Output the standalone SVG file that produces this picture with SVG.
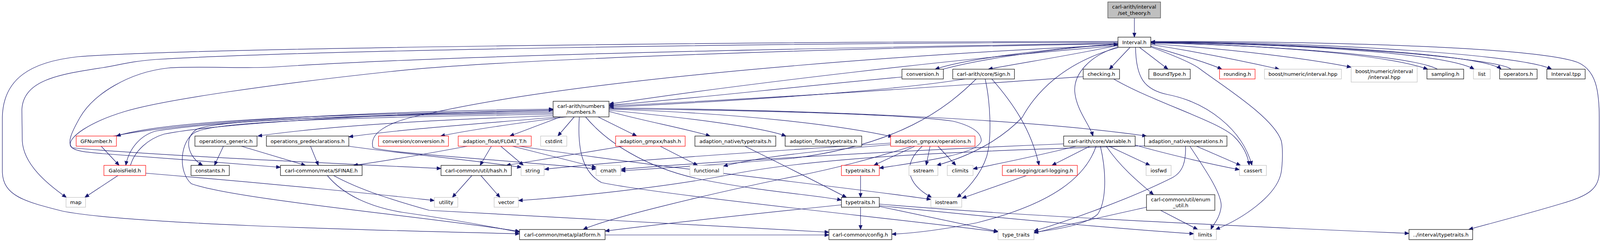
<svg xmlns="http://www.w3.org/2000/svg" width="4103" height="619" viewBox="0 0 4103 619">
<defs>
<marker id="a" markerWidth="13" markerHeight="10" refX="11" refY="4.5" orient="auto" markerUnits="userSpaceOnUse"><path d="M0,0 L11,4.5 L0,9 z" fill="#191970" stroke="#191970" stroke-width="1"/></marker>
</defs>
<style>
rect{fill:#fff;stroke:#000;stroke-width:1.2}
.g rect{stroke:#bfbfbf}
.r rect{stroke:#ff0000}
.root rect{fill:#bfbfbf;stroke:#404040}
text{font-family:"DejaVu Sans","Liberation Sans",sans-serif;font-size:13px;text-anchor:middle;fill:#000}
#edges path{fill:none;stroke:#191970;stroke-width:1.2;marker-end:url(#a)}
</style>
<rect x="0" y="0" width="4103" height="619" style="fill:#fff;stroke:none"/>
<g id="edges">
<path d="M2904,46 L2904,95"/>
<path d="M2862,112 C2700,124 2480,148 2394,177"/>
<path d="M2414,177 C2520,148 2720,122 2862,113"/>
<path d="M2862,116 C2750,140 2620,160 2530,177"/>
<path d="M2893,121 L2840,177"/>
<path d="M2917,121 L2990,177"/>
<path d="M2946,118 C3020,140 3090,160 3128,177"/>
<path d="M2946,114 C3080,135 3200,160 3275,177"/>
<path d="M2946,112 C3150,125 3350,150 3459,172"/>
<path d="M2946,110 C3250,115 3550,140 3655,177"/>
<path d="M3680,177 C3620,145 3300,118 2946,109"/>
<path d="M2946,109 C3300,112 3700,135 3774,177"/>
<path d="M2946,108 C3350,110 3800,140 3843,177"/>
<path d="M3868,177 C3840,150 3400,112 2946,107"/>
<path d="M2946,107 C3400,108 3900,140 3972,177"/>
<path d="M2946,106 C3500,106 3950,125 4040,160 C4085,180 4094,230 4094,300 L4094,440 C4094,480 4070,500 4000,520 C3900,550 3820,570 3760,587"/>
<path d="M2946,120 C3000,140 3050,160 3070,175 C3130,220 3260,300 3280,360 C3285,380 3283,420 3280,440 C3270,500 3180,560 3112,587"/>
<path d="M2907,121 C2908,200 2930,230 2990,242 C3090,262 3180,330 3205,423"/>
<path d="M2851,202 C2950,260 3120,310 3160,350 C3185,375 3195,400 3198,423"/>
<path d="M2862,120 C2790,142 2745,190 2752,240 C2758,285 2790,320 2798,348"/>
<path d="M2862,122 C2720,160 2650,240 2617,300 C2560,360 2480,400 2398,423"/>
<path d="M2862,117 C2450,150 1900,215 1560,266"/>
<path d="M2309,197 C2000,225 1800,250 1560,269"/>
<path d="M2773,196 C2400,222 2000,250 1560,271"/>
<path d="M2470,202 C2300,230 1950,255 1560,274"/>
<path d="M2862,106 C2000,106 500,122 200,145 C80,158 8,200 6,300 L6,440 C8,500 60,515 160,540 C320,572 900,588 1330,598"/>
<path d="M2862,108 C2000,110 800,128 400,152 C330,157 300,168 263,173 C150,190 60,205 56,280 L57,360 C60,420 120,470 170,505"/>
<path d="M2862,110 C2000,125 1200,140 723,170 C640,177 500,168 430,174 C330,185 240,240 205,300 C185,335 170,365 185,378 C400,398 900,420 1129,431"/>
<path d="M2862,112 C2200,122 1300,150 1000,183 C700,215 420,255 320,285 C230,312 175,350 180,372 C186,388 230,390 263,393 C400,403 600,418 718,428"/>
<path d="M2862,115 C2300,140 1500,200 1100,290 C980,312 945,345 955,378 C1000,392 1300,410 1526,432"/>
<path d="M893,374 C1000,390 1200,408 1335,428"/>
<path d="M1416,283 C1000,290 450,300 298,348"/>
<path d="M290,348 C500,306 1000,284 1416,279"/>
<path d="M1416,286 C900,293 560,310 400,335 C360,345 330,380 322,423"/>
<path d="M334,423 C345,385 380,355 420,343 C560,315 1000,290 1416,281"/>
<path d="M1416,289 C900,296 570,305 505,330 C470,350 478,400 519,423"/>
<path d="M1416,292 C800,302 560,312 500,338 C460,360 455,440 490,470 C600,510 1100,555 1330,592"/>
<path d="M838,449 C880,500 950,530 1030,543 C1150,560 1250,578 1330,594"/>
<path d="M854,449 C920,485 1000,510 1099,538 C1500,560 1900,580 2122,594"/>
<path d="M1549,601 C1800,602 2000,600 2122,601"/>
<path d="M1416,296 C1150,305 850,320 660,348"/>
<path d="M1430,299 C1250,315 1050,328 893,350"/>
<path d="M1450,299 C1300,318 1190,335 1128,348"/>
<path d="M1435,299 L1305,348"/>
<path d="M1470,299 L1428,348"/>
<path d="M1483,299 C1478,380 1490,440 1540,467 C1700,500 2300,560 2555,593"/>
<path d="M1499,299 C1550,360 1650,430 1800,460 C1950,490 2100,500 2154,512"/>
<path d="M1531,299 L1630,348"/>
<path d="M1559,285 C1650,310 1760,330 1818,348"/>
<path d="M1559,282 C1750,300 1950,325 2012,348"/>
<path d="M1559,279 C1900,290 2150,320 2285,350"/>
<path d="M1559,276 C2000,280 2600,300 2935,348"/>
<path d="M1559,278 C1900,282 2300,290 2440,310 C2500,325 2512,345 2512,360 C2505,395 2350,415 2251,430"/>
<path d="M259,374 L305,423"/>
<path d="M302,449 L217,505"/>
<path d="M373,443 C700,470 1000,500 1112,513"/>
<path d="M572,374 L549,423"/>
<path d="M618,374 L782,423"/>
<path d="M795,374 L815,423"/>
<path d="M1196,374 C1100,392 1000,410 905,423"/>
<path d="M1258,374 L1229,423"/>
<path d="M1282,374 L1340,423"/>
<path d="M1312,374 L1526,428"/>
<path d="M1329,374 C1700,430 2100,470 2383,510"/>
<path d="M1595,374 L1296,423"/>
<path d="M1690,374 L1786,423"/>
<path d="M1208,449 L1158,505"/>
<path d="M1231,449 L1280,505"/>
<path d="M1907,374 C2000,420 2100,470 2167,505"/>
<path d="M2342,374 L2237,423"/>
<path d="M2381,374 L2371,423"/>
<path d="M2401,374 L2447,423"/>
<path d="M2361,374 C2310,420 2320,470 2385,505"/>
<path d="M2335,374 C2250,400 2150,430 2000,458 C1800,500 1550,560 1493,587"/>
<path d="M2280,366 C2000,385 1600,410 1394,433"/>
<path d="M2280,370 C2100,385 1950,400 1852,425"/>
<path d="M2723,368 C2300,385 1800,415 1590,433"/>
<path d="M2499,202 C2420,280 2300,370 2030,405 C1850,420 1700,430 1590,437"/>
<path d="M2930,373 C2500,385 2100,400 1867,447 C1700,480 1450,505 1327,513"/>
<path d="M2539,202 C2590,260 2640,330 2660,423"/>
<path d="M2522,202 C2535,260 2540,350 2526,400 C2510,450 2470,490 2450,505"/>
<path d="M2906,371 C2990,395 3100,420 3173,434"/>
<path d="M2755,374 C2650,400 2550,420 2491,432"/>
<path d="M2790,374 L2693,423"/>
<path d="M2839,374 L2944,423"/>
<path d="M2832,374 C2870,430 2920,470 2953,498"/>
<path d="M2806,374 C2780,450 2700,520 2500,570 C2400,590 2330,597 2283,599"/>
<path d="M2817,374 C2835,450 2830,520 2810,548 C2780,575 2700,588 2647,594"/>
<path d="M2971,538 L3066,587"/>
<path d="M2935,530 C2800,560 2700,582 2647,596"/>
<path d="M3063,374 L3176,423"/>
<path d="M3046,374 C3090,440 3130,500 3126,530 C3122,560 3105,575 3100,587"/>
<path d="M3035,374 C3036,410 3030,440 3000,455 C2900,505 2750,560 2647,591"/>
<path d="M2203,449 L2203,505"/>
<path d="M2203,530 L2203,587"/>
<path d="M2154,524 C1900,550 1700,572 1549,591"/>
<path d="M2251,528 C2400,560 2500,580 2555,592"/>
<path d="M2251,522 C2600,552 3200,580 3607,597"/>
<path d="M2251,526 C2600,562 2900,588 3056,598"/>
<path d="M2628,449 L2463,507"/>
</g>
<g id="n_set_theory" class="root"><rect x="2836" y="5" width="135" height="41"/><text x="2903.5" y="21.5">carl-arith/interval</text><text x="2903.5" y="37.5">/set_theory.h</text></g>
<g id="n_interval"><rect x="2862" y="95" width="84" height="26"/><text x="2904" y="112.5">Interval.h</text></g>
<g id="n_conversion"><rect x="2309" y="177" width="106" height="25"/><text x="2362" y="194">conversion.h</text></g>
<g id="n_sign"><rect x="2439" y="177" width="158" height="25"/><text x="2518" y="194">carl-arith/core/Sign.h</text></g>
<g id="n_checking"><rect x="2773" y="177" width="93" height="25"/><text x="2819.5" y="194">checking.h</text></g>
<g id="n_boundtype"><rect x="2941" y="177" width="106" height="25"/><text x="2994" y="194">BoundType.h</text></g>
<g id="n_rounding" class="r"><rect x="3122" y="177" width="91" height="25"/><text x="3167.5" y="194">rounding.h</text></g>
<g id="n_boost_interval" class="g"><rect x="3237" y="177" width="197" height="25"/><text x="3335.5" y="194">boost/numeric/interval.hpp</text></g>
<g id="n_boost_interval2" class="g"><rect x="3459" y="170" width="169" height="40"/><text x="3543.5" y="186.5">boost/numeric/interval</text><text x="3543.5" y="201.5">/interval.hpp</text></g>
<g id="n_sampling"><rect x="3653" y="177" width="94" height="25"/><text x="3700" y="194">sampling.h</text></g>
<g id="n_list" class="g"><rect x="3772" y="177" width="43" height="25"/><text x="3793.5" y="194">list</text></g>
<g id="n_operators"><rect x="3839" y="177" width="96" height="25"/><text x="3887" y="194">operators.h</text></g>
<g id="n_interval_tpp"><rect x="3960" y="177" width="98" height="25"/><text x="4009" y="194">Interval.tpp</text></g>
<g id="n_numbers"><rect x="1416" y="259" width="143" height="40"/><text x="1487.5" y="275.5">carl-arith/numbers</text><text x="1487.5" y="290.5">/numbers.h</text></g>
<g id="n_gfnumber" class="r"><rect x="195" y="348" width="103" height="26"/><text x="246.5" y="365.5">GFNumber.h</text></g>
<g id="n_ops_generic"><rect x="499" y="348" width="159" height="26"/><text x="578.5" y="365.5">operations_generic.h</text></g>
<g id="n_ops_predecl"><rect x="682" y="348" width="211" height="26"/><text x="787.5" y="365.5">operations_predeclarations.h</text></g>
<g id="n_conv_conv" class="r"><rect x="969" y="348" width="179" height="26"/><text x="1058.5" y="365.5">conversion/conversion.h</text></g>
<g id="n_float_t" class="r"><rect x="1173" y="348" width="187" height="26"/><text x="1266.5" y="365.5">adaption_float/FLOAT_T.h</text></g>
<g id="n_cstdint" class="g"><rect x="1384" y="348" width="67" height="26"/><text x="1417.5" y="365.5">cstdint</text></g>
<g id="n_gmpxx_hash" class="r"><rect x="1576" y="348" width="178" height="26"/><text x="1665" y="365.5">adaption_gmpxx/hash.h</text></g>
<g id="n_native_tt"><rect x="1779" y="348" width="207" height="26"/><text x="1882.5" y="365.5">adaption_native/typetraits.h</text></g>
<g id="n_float_tt"><rect x="2010" y="348" width="196" height="26"/><text x="2108" y="365.5">adaption_float/typetraits.h</text></g>
<g id="n_gmpxx_ops" class="r"><rect x="2280" y="348" width="216" height="26"/><text x="2388" y="365.5">adaption_gmpxx/operations.h</text></g>
<g id="n_variable"><rect x="2723" y="348" width="183" height="26"/><text x="2814.5" y="365.5">carl-arith/core/Variable.h</text></g>
<g id="n_native_ops"><rect x="2930" y="348" width="211" height="26"/><text x="3035.5" y="365.5">adaption_native/operations.h</text></g>
<g id="n_galoisfield" class="r"><rect x="266" y="423" width="107" height="26"/><text x="319.5" y="440.5">GaloisField.h</text></g>
<g id="n_constants"><rect x="489" y="423" width="98" height="26"/><text x="538" y="440.5">constants.h</text></g>
<g id="n_sfinae"><rect x="718" y="423" width="209" height="26"/><text x="822.5" y="440.5">carl-common/meta/SFINAE.h</text></g>
<g id="n_util_hash"><rect x="1129" y="423" width="180" height="26"/><text x="1219" y="440.5">carl-common/util/hash.h</text></g>
<g id="n_string" class="g"><rect x="1334" y="423" width="59" height="26"/><text x="1363.5" y="440.5">string</text></g>
<g id="n_cmath" class="g"><rect x="1526" y="423" width="63" height="26"/><text x="1557.5" y="440.5">cmath</text></g>
<g id="n_functional" class="g"><rect x="1766" y="423" width="86" height="26"/><text x="1809" y="440.5">functional</text></g>
<g id="n_typetraits_red" class="r"><rect x="2154" y="423" width="97" height="26"/><text x="2202.5" y="440.5">typetraits.h</text></g>
<g id="n_sstream" class="g"><rect x="2327" y="423" width="74" height="26"/><text x="2364" y="440.5">sstream</text></g>
<g id="n_climits" class="g"><rect x="2425" y="423" width="66" height="26"/><text x="2458" y="440.5">climits</text></g>
<g id="n_logging" class="r"><rect x="2566" y="423" width="192" height="26"/><text x="2662" y="440.5">carl-logging/carl-logging.h</text></g>
<g id="n_iosfwd" class="g"><rect x="2934" y="423" width="64" height="26"/><text x="2966" y="440.5">iosfwd</text></g>
<g id="n_cassert" class="g"><rect x="3173" y="423" width="69" height="26"/><text x="3207.5" y="440.5">cassert</text></g>
<g id="n_map" class="g"><rect x="169" y="505" width="50" height="25"/><text x="194" y="522">map</text></g>
<g id="n_utility" class="g"><rect x="1112" y="505" width="60" height="25"/><text x="1142" y="522">utility</text></g>
<g id="n_vector" class="g"><rect x="1265" y="505" width="62" height="25"/><text x="1296" y="522">vector</text></g>
<g id="n_typetraits"><rect x="2154" y="505" width="97" height="25"/><text x="2202.5" y="522">typetraits.h</text></g>
<g id="n_iostream" class="g"><rect x="2383" y="505" width="79" height="25"/><text x="2422.5" y="522">iostream</text></g>
<g id="n_enum_util"><rect x="2935" y="498" width="175" height="40"/><text x="3022.5" y="514.5">carl-common/util/enum</text><text x="3022.5" y="529.5">_util.h</text></g>
<g id="n_platform"><rect x="1330" y="587" width="219" height="26"/><text x="1439.5" y="604.5">carl-common/meta/platform.h</text></g>
<g id="n_config"><rect x="2122" y="587" width="161" height="26"/><text x="2202.5" y="604.5">carl-common/config.h</text></g>
<g id="n_type_traits" class="g"><rect x="2555" y="587" width="92" height="26"/><text x="2601" y="604.5">type_traits</text></g>
<g id="n_limits" class="g"><rect x="3056" y="587" width="58" height="26"/><text x="3085" y="604.5">limits</text></g>
<g id="n_interval_tt"><rect x="3607" y="587" width="163" height="26"/><text x="3688.5" y="604.5">../interval/typetraits.h</text></g>
</svg>
